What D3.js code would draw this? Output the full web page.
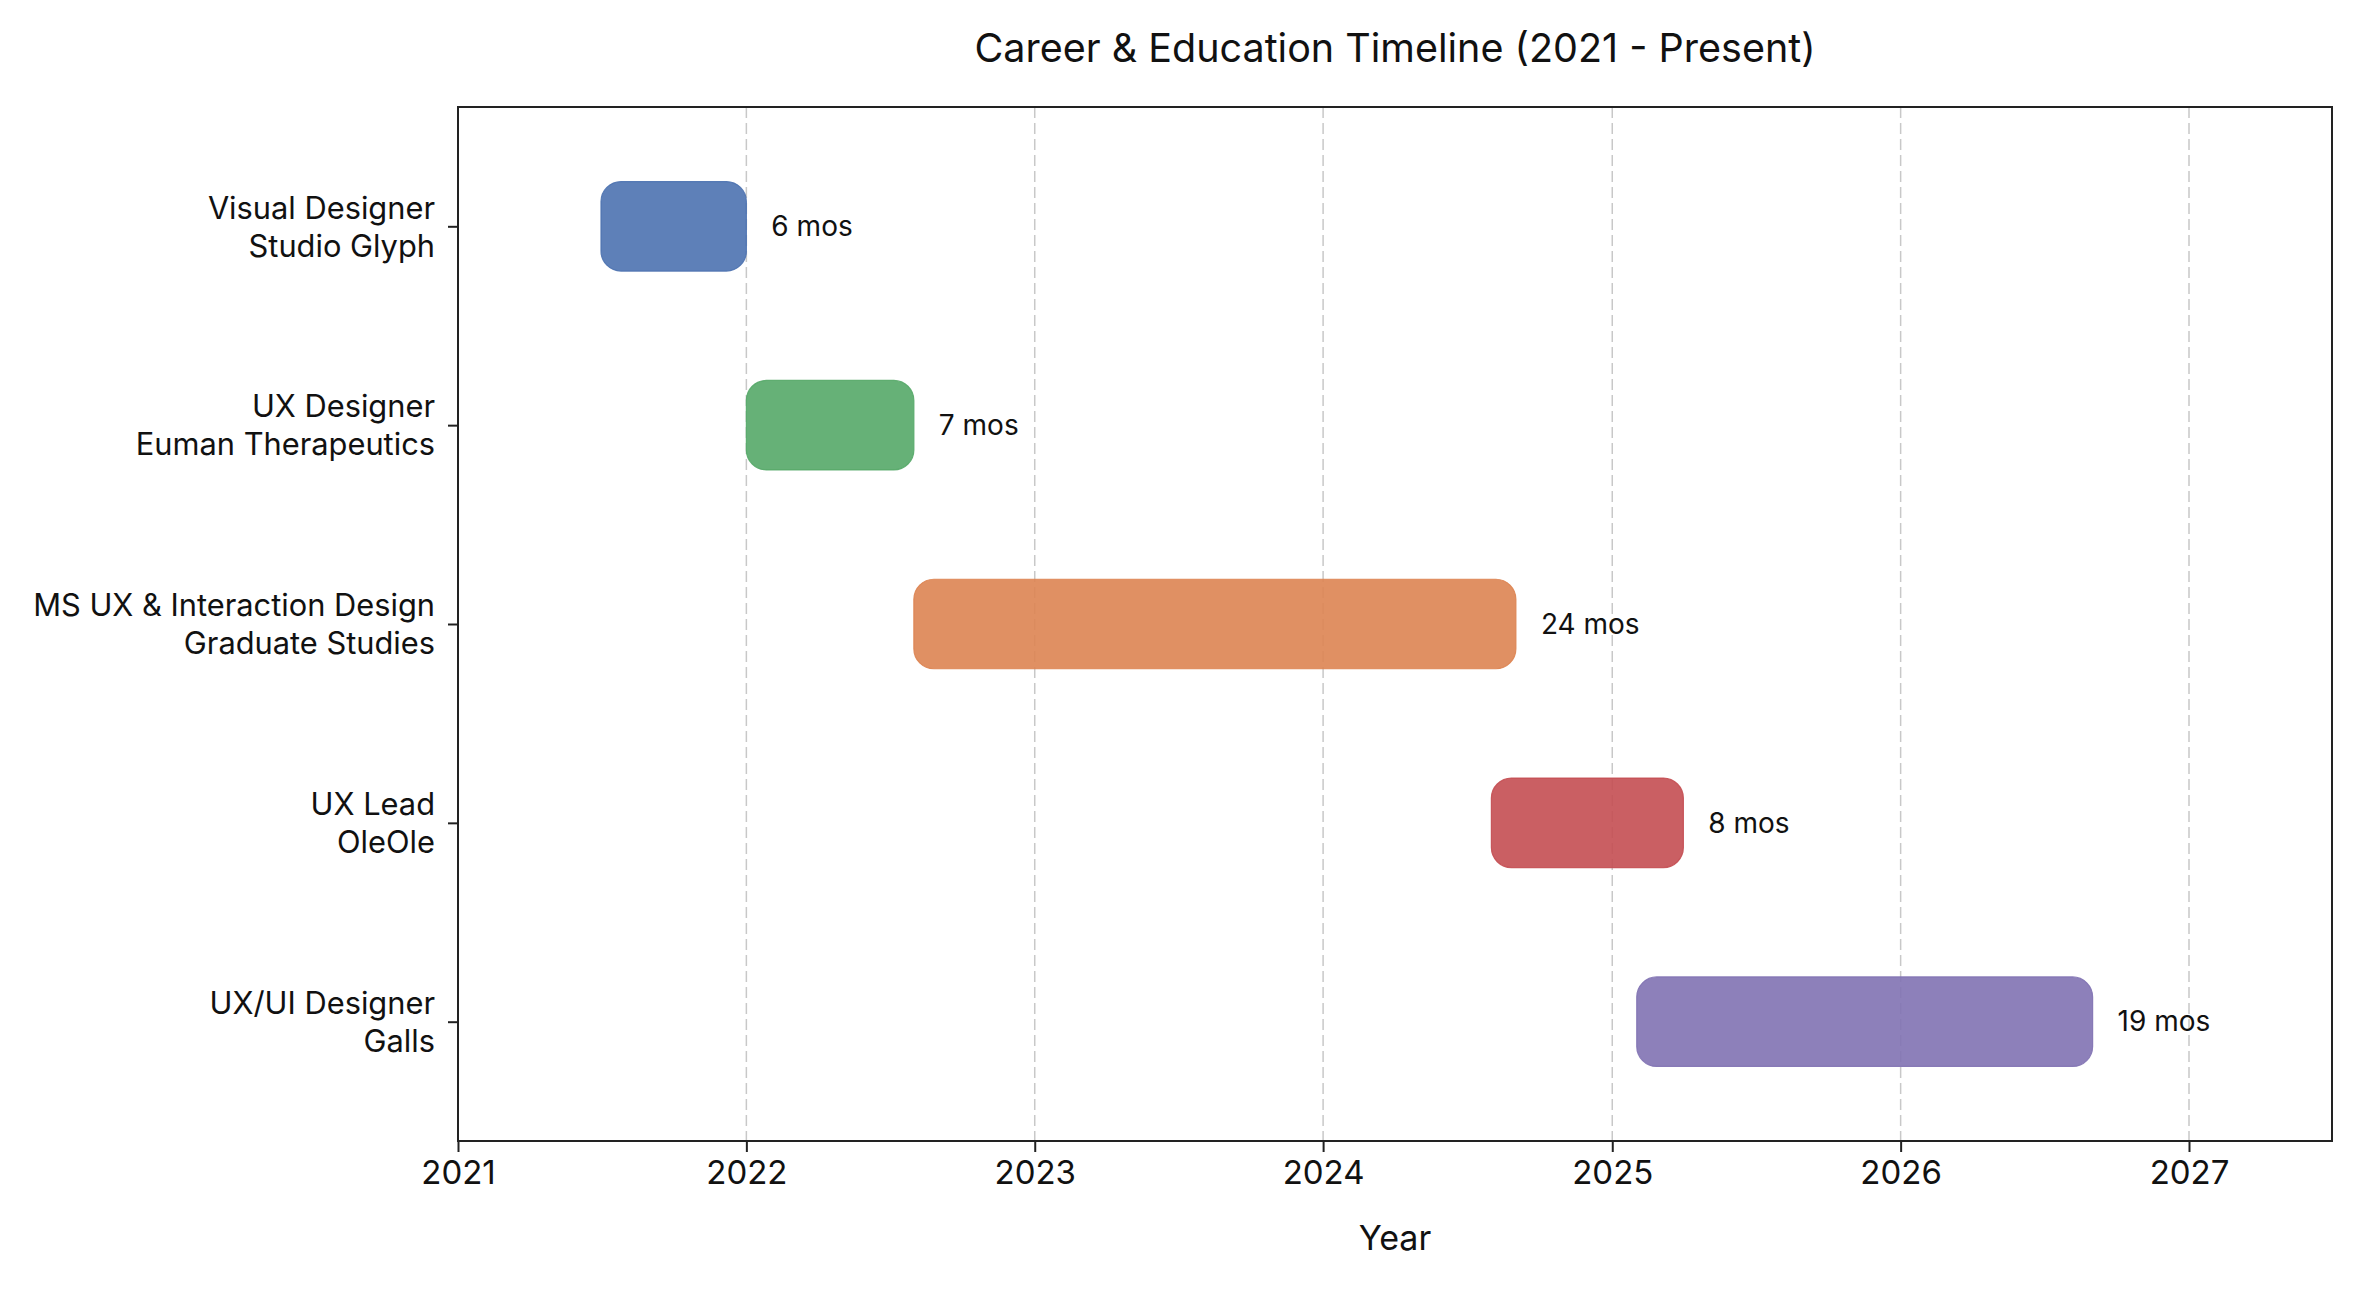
<!DOCTYPE html>
<html>
<head>
<meta charset="utf-8">
<script src="https://cdn.jsdelivr.net/npm/d3@7"></script>
<style>
  body { margin: 0; background: #fff; }
  text { font-family: Inter, "Open Sans", sans-serif; fill: #111; }
</style>
</head>
<body>
<div id="chart"></div>
<script>
// roles, one per row (two lines each)
var roles = ["Visual Designer", "UX Designer", "MS UX & Interaction Design", "UX Lead", "UX/UI Designer"];
var places = ["Studio Glyph", "Euman Therapeutics", "Graduate Studies", "OleOle", "Galls"];
// start / end dates (year-month)
var starts = ["2021-07", "2022-01", "2022-08", "2024-08", "2025-02"];
var ends = ["2022-01", "2022-08", "2024-09", "2025-04", "2026-09"];
var durations = ["6 mos", "7 mos", "24 mos", "8 mos", "19 mos"];
var colors = ["#4C72B0", "#55A868", "#DD8452", "#C44E52", "#8172B3"];
var yearTicks = [2021, 2022, 2023, 2024, 2025, 2026, 2027];

var width = 2364, height = 1290;
var margin = {top: 107, right: 32, bottom: 149, left: 458};
var parse = d3.timeParse("%Y-%m");

var svg = d3.select("#chart").append("svg")
        .attr("width", width)
        .attr("height", height);

//Scales
var x = d3.scaleTime()
        .domain([new Date(2021, 0, 1), new Date(2027, 6, 1)])
        .range([margin.left, width - margin.right]);
var y = d3.scaleLinear()
        .domain([-0.6, roles.length - 0.4])
        .range([margin.top, height - margin.bottom]);
var barH = y(0.45) - y(0);

//Grid
svg.append("g")
        .selectAll("line")
        .data(yearTicks.slice(1))
        .enter()
        .append("line")
        .attr("x1", function (d) { return x(new Date(d, 0, 1)); })
        .attr("x2", function (d) { return x(new Date(d, 0, 1)); })
        .attr("y1", margin.top)
        .attr("y2", height - margin.bottom)
        .attr("stroke", "#c8c8c8")
        .attr("stroke-width", 1.5)
        .attr("stroke-dasharray", "11,5");

//Bars
var bars = svg.append("g")
        .selectAll("g")
        .data(roles)
        .enter()
        .append("g");
bars.append("rect")
        .attr("x", function (d, i) { return x(parse(starts[i])); })
        .attr("y", function (d, i) { return y(i) - barH / 2; })
        .attr("width", function (d, i) { return x(parse(ends[i])) - x(parse(starts[i])); })
        .attr("height", barH)
        .attr("rx", 20)
        .attr("ry", 20)
        .attr("fill", function (d, i) { return colors[i]; })
        .attr("fill-opacity", 0.9)
        .attr("stroke", function (d, i) { return colors[i]; })
        .attr("stroke-opacity", 0.9)
        .attr("stroke-width", 1.2);
//Duration labels
bars.append("text")
        .attr("x", function (d, i) { return x(parse(ends[i])) + 25; })
        .attr("y", function (d, i) { return y(i); })
        .attr("dy", "0.35em")
        .style("font-size", "28px")
        .text(function (d, i) { return durations[i]; });

//Axes
var xAxis = d3.axisBottom(x)
        .tickValues(yearTicks.map(function (d) { return new Date(d, 0, 1); }))
        .tickFormat(d3.timeFormat("%Y"))
        .tickSize(11)
        .tickPadding(9);
var gx = svg.append("g")
        .attr("transform", "translate(0," + (height - margin.bottom) + ")")
        .call(xAxis);
gx.select(".domain").remove();
gx.selectAll("line").attr("stroke", "#222").attr("stroke-width", 2);
gx.selectAll("text").style("font-size", "33px").attr("fill", "#111");

var yAxis = d3.axisLeft(y)
        .tickValues(d3.range(roles.length))
        .tickFormat("")
        .tickSize(10);
var gy = svg.append("g")
        .attr("transform", "translate(" + margin.left + ",0)")
        .call(yAxis);
gy.select(".domain").remove();
gy.selectAll("line").attr("stroke", "#222").attr("stroke-width", 2);
gy.selectAll(".tick").append("text")
        .attr("x", -23)
        .attr("text-anchor", "end")
        .style("font-size", "30.8px")
        .each(function (d) {
            var t = d3.select(this);
            t.append("tspan").attr("x", -23).attr("y", -19).attr("dy", "0.35em").text(roles[d]);
            t.append("tspan").attr("x", -23).attr("y", 19).attr("dy", "0.35em").text(places[d]);
        });

//Frame
svg.append("rect")
        .attr("x", margin.left)
        .attr("y", margin.top)
        .attr("width", width - margin.left - margin.right)
        .attr("height", height - margin.top - margin.bottom)
        .attr("fill", "none")
        .attr("stroke", "#222")
        .attr("stroke-width", 2);

//Titles
svg.append("text")
        .attr("x", (margin.left + width - margin.right) / 2)
        .attr("y", 62)
        .attr("text-anchor", "middle")
        .style("font-size", "39.5px")
        .text("Career & Education Timeline (2021 - Present)");
svg.append("text")
        .attr("x", (margin.left + width - margin.right) / 2)
        .attr("y", 1250)
        .attr("text-anchor", "middle")
        .style("font-size", "34px")
        .text("Year");
</script>
</body>
</html>
